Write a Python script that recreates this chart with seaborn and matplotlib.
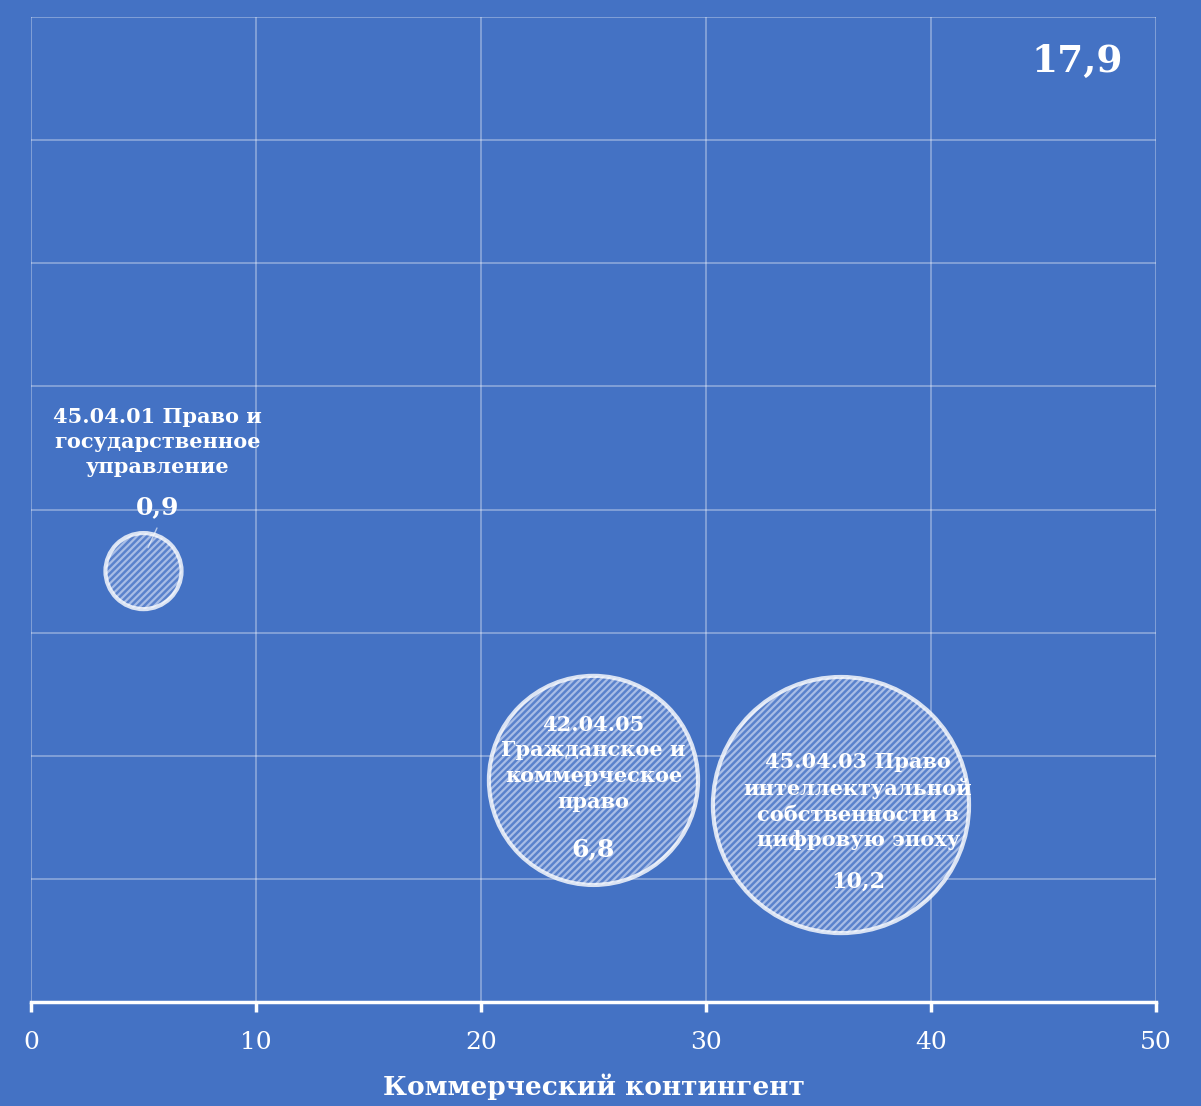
import matplotlib
matplotlib.use("Agg")
import matplotlib.pyplot as plt
import seaborn as sns
import pandas as pd

# data
programs = [
    "45.04.01 Право и\nгосударственное\nуправление",
    "42.04.05\nГражданское и\nкоммерческое\nправо",
    "45.04.03 Право\nинтеллектуальной\nсобственности в\nцифровую эпоху",
]
commercial = [5, 25, 36]
y_values = [3.5, 1.8, 1.6]
bubble_values = [0.9, 6.8, 10.2]
bubble_labels = ["0,9", "6,8", "10,2"]
total_label = "17,9"
x_ticks = [0, 10, 20, 30, 40, 50]
x_title = "Коммерческий контингент"

df = pd.DataFrame({"x": commercial, "y": y_values, "v": bubble_values, "name": programs})

BG = "#4472C4"
sns.set_theme(style="white")
plt.rcParams["font.family"] = ["DejaVu Serif"]
plt.rcParams["hatch.linewidth"] = 1.6

fig = plt.figure(figsize=(12.01, 11.06), dpi=100, facecolor=BG)
ax = fig.add_axes([0.0258, 0.094, 0.9367, 0.8906], facecolor=BG)

smax = 34000
# hatched fill
sns.scatterplot(data=df, x="x", y="y", size="v", sizes=(0, smax), size_norm=(0, max(bubble_values)),
                color="#5A82CC", edgecolor="#A8BDE6", linewidth=0, hatch="/////",
                legend=False, ax=ax, zorder=3)
# outline
sns.scatterplot(data=df, x="x", y="y", size="v", sizes=(0, smax), size_norm=(0, max(bubble_values)),
                facecolor="none", edgecolor=(1, 1, 1, 0.8), linewidth=3,
                legend=False, ax=ax, zorder=4)

ax.set_xlim(0, 50)
ax.set_ylim(0, 8)
ax.set_xticks(x_ticks)
ax.set_yticks(range(0, 9))
ax.set_yticklabels([])
ax.grid(True, color="white", alpha=0.35, linewidth=1.3)
ax.set_axisbelow(True)
for s in ["top", "left", "right"]:
    ax.spines[s].set_visible(False)
ax.spines["bottom"].set_color("white")
ax.spines["bottom"].set_linewidth(2.5)
ax.tick_params(axis="x", bottom=True, colors="white", direction="out", length=7, width=2.5,
               labelsize=18, pad=14)
ax.tick_params(axis="y", length=0)
ax.set_xlabel(x_title, color="white", fontsize=19, fontweight="bold", labelpad=14)
ax.set_ylabel("")

# labels
tkw = dict(color="white", fontweight="bold", ha="center", va="center", zorder=6)
# bubble 1 label above
ax.text(5.64, 4.55, programs[0], fontsize=15, linespacing=1.3, **tkw)
ax.text(5.64, 4.02, bubble_labels[0], fontsize=18, **tkw)
ax.plot([5.6, 5.2], [3.85, 3.69], color=(1, 1, 1, 0.6), lw=1, zorder=6)
# bubble 2
ax.text(commercial[1], 1.94, programs[1], fontsize=15, linespacing=1.35, **tkw)
ax.text(commercial[1], 1.24, bubble_labels[1], fontsize=18, **tkw)
# bubble 3
ax.text(36.76, 1.63, programs[2], fontsize=15, linespacing=1.35, **tkw)
ax.text(36.76, 0.975, bubble_labels[2], fontsize=16, **tkw)

fig.text(0.897, 0.944, total_label, color="white", fontsize=27, fontweight="bold", ha="center", va="center")

fig.savefig("out.png", dpi=100, facecolor=BG)
